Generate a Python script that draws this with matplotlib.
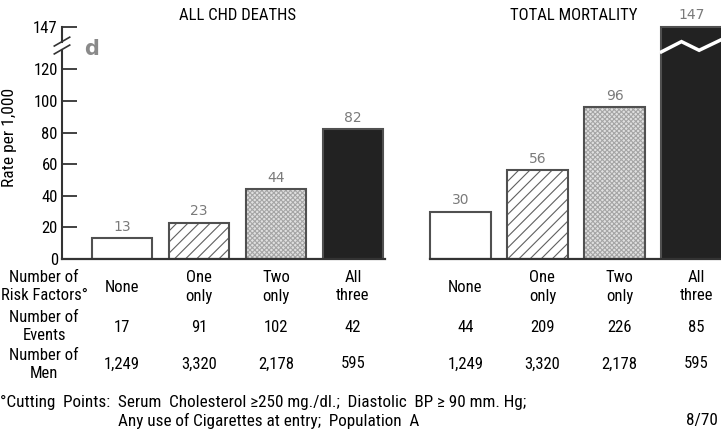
import numpy as np
import matplotlib
matplotlib.use("Agg")
import matplotlib.pyplot as plt
from matplotlib import font_manager
import matplotlib.transforms as mtransforms

# data
groups = ["None", "One\nonly", "Two\nonly", "All\nthree"]
chd_rates = [13, 23, 44, 82]
total_rates = [30, 56, 96, 147]
chd_events = [17, 91, 102, 42]
total_events = [44, 209, 226, 85]
men_counts = [1249, 3320, 2178, 595]
yticks = [0, 20, 40, 60, 80, 100, 120, 147]

# a narrow face is closest to the typewritten look, if one is around
fonts = font_manager.fontManager.ttflist
names = {f.name for f in fonts}
NARROW, STRETCH, k = "DejaVu Sans", "normal", 0.85
for cand in ["Liberation Sans Narrow", "Roboto Condensed", "Open Sans Condensed",
             "DejaVu Sans Condensed"]:
    if cand in names:
        NARROW, k = cand, 1.0
        break
else:
    if any(f.name == "DejaVu Sans" and f.stretch == "condensed" for f in fonts):
        STRETCH, k = "condensed", 0.95

fills = ["white", "white", "#e0e0e0", "#222222"]
hatches = [None, "///", "xxxxxxx", None]
hatch_cols = ["white", "#606060", "#a5a5a5", "#222222"]
EDGE = "#505050"
LABEL_GREY = "#7a7a7a"

plt.rcParams["hatch.linewidth"] = 0.8

W, H = 721, 433
fig = plt.figure(figsize=(W / 100, H / 100), dpi=100)
ax = fig.add_axes([62 / W, (H - 259) / H, (W - 62) / W, 234 / H])

x_left = np.arange(4)
x_right = np.arange(4) + 4.4
width = 0.79
xmin, xmax = -0.779, 7.779
ax.set_xlim(xmin, xmax)
ax.set_ylim(0, 148)


def draw_group(xs, rates):
    for x, r, fc, h, hc in zip(xs, rates, fills, hatches, hatch_cols):
        ax.bar(x, r, width, color=fc, hatch=h, edgecolor=hc, linewidth=0)
    ax.bar(xs, rates, width, fill=False, edgecolor=EDGE, linewidth=1.5)
    for x, r in zip(xs, rates):
        ax.annotate(str(r), (x, r), xytext=(0, 3), textcoords="offset points",
                    ha="center", va="bottom", fontsize=10, color=LABEL_GREY,
                    annotation_clip=False)


draw_group(x_left, chd_rates)
draw_group(x_right, total_rates)

# zigzag break across the tallest bar
top = total_rates[-1]
bx = x_right[-1] - width / 2 + np.array([0, 0.33, 0.62, 1.0]) * width
by = top - np.array([16, 9.5, 15, 8])
ax.plot(bx, by, color="white", lw=2.5, solid_joinstyle="miter", zorder=5,
        clip_on=False)

# baselines
ax.plot([xmin, x_left[-1] + 0.42], [0, 0], color="#333333", lw=1.6, clip_on=False)
ax.plot([x_right[0] - width / 2, xmax], [0, 0], color="#333333", lw=1.6, clip_on=False)

# left axis with break
for s in ax.spines.values():
    s.set_visible(False)
lo, hi = 132.5, 137.5
ax.plot([xmin, xmin], [0, lo], color="#333333", lw=1.5, clip_on=False)
ax.plot([xmin, xmin], [hi, 147], color="#333333", lw=1.5, clip_on=False)
for yb in (lo, hi):
    ax.plot([xmin - 0.1, xmin + 0.1], [yb - 2.8, yb + 2.8], color="#333333",
            lw=1.2, clip_on=False)

txt = dict(family=NARROW, fontstretch=STRETCH)

ax.set_xticks([])
ax.set_yticks(yticks)
ax.set_yticklabels([str(t) for t in yticks], fontsize=12 * k, **txt)
ax.tick_params(axis="y", direction="in", length=11, width=1.3, color="#333333", pad=3)
ax.set_ylabel("Rate per 1,000", fontsize=12.5 * k, **txt)
ax.yaxis.set_label_coords(-45 / (W - 62), 0.52)

# titles and panel letter
fig.text(237 / W, 1 - 15 / H, "ALL CHD DEATHS", ha="center", va="center",
         fontsize=12 * k, **txt)
fig.text(574 / W, 1 - 15 / H, "TOTAL MORTALITY", ha="center", va="center",
         fontsize=12 * k, **txt)
fig.text(92 / W, 1 - 49 / H, "d", ha="center", va="center", fontsize=15,
         fontweight="bold", color="#8a8a8a")

# table under the bars
tr = mtransforms.blended_transform_factory(ax.transData, fig.transFigure)


def fy(px):
    return 1 - px / H


row_kw = dict(ha="center", va="center", fontsize=12 * k, linespacing=1.25, **txt)
fig.text(44 / W, fy(287), "Number of\nRisk Factors\u00b0", **row_kw)
fig.text(44 / W, fy(327), "Number of\nEvents", **row_kw)
fig.text(44 / W, fy(365), "Number of\nMen", **row_kw)

# the right-hand columns sit a touch right of their bars
for xs, events, shift in ((x_left, chd_events, 0.0), (x_right, total_events, 0.06)):
    for x, g, e, m in zip(xs, groups, events, men_counts):
        ax.text(x + shift, fy(287), g, transform=tr, **row_kw)
        ax.text(x + shift, fy(327), str(e), transform=tr, **row_kw)
        ax.text(x + shift, fy(364), f"{m:,}", transform=tr, **row_kw)

foot_kw = dict(va="center", fontsize=12.3 * k, **txt)
fig.text(0, fy(402), "\u00b0Cutting  Points:  Serum  Cholesterol \u2265250 mg./dl.;  "
         "Diastolic  BP \u2265 90 mm. Hg;", ha="left", **foot_kw)
fig.text(118 / W, fy(421), "Any use of Cigarettes at entry;  Population  A",
         ha="left", **foot_kw)
fig.text(718 / W, fy(421), "8/70", ha="right", **foot_kw)

fig.savefig("out.png", dpi=100)
